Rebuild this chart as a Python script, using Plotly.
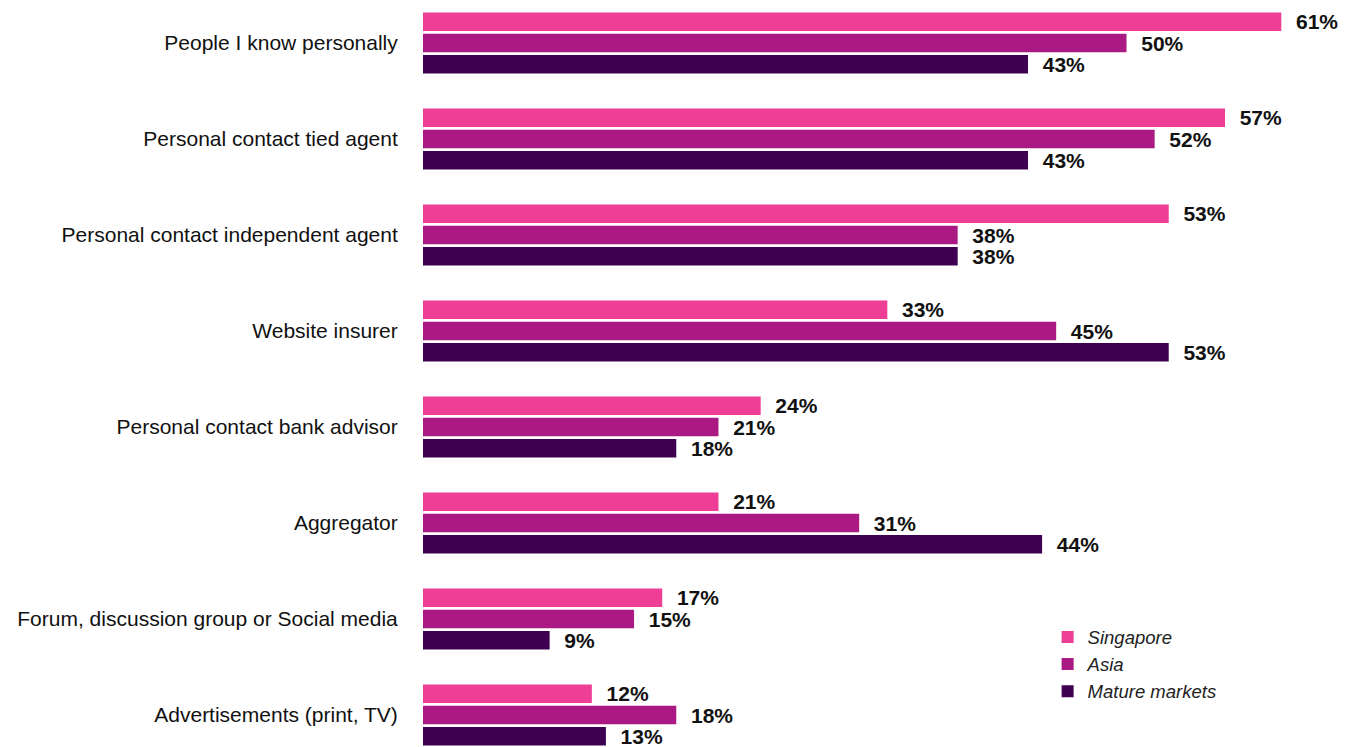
import plotly.graph_objects as go

categories = [
    "People I know personally",
    "Personal contact tied agent",
    "Personal contact independent agent",
    "Website insurer",
    "Personal contact bank advisor",
    "Aggregator",
    "Forum, discussion group or Social media",
    "Advertisements (print, TV)",
]
singapore = [61, 57, 53, 33, 24, 21, 17, 12]
asia = [50, 52, 38, 45, 21, 31, 15, 18]
mature = [43, 43, 38, 53, 18, 44, 9, 13]

series = [
    ("Singapore", singapore, "#EE3E96"),
    ("Asia", asia, "#AA1A82"),
    ("Mature markets", mature, "#3E0050"),
]

fig = go.Figure()
for name, vals, color in series:
    fig.add_trace(go.Bar(
        y=categories, x=vals, name=name, orientation="h",
        marker=dict(color=color, line=dict(width=0)),
        text=["\u00a0\u00a0%d%%" % v for v in vals],
        textposition="outside",
        constraintext="none",
        textfont=dict(family="Liberation Sans, Arial, sans-serif", size=21, color="#111111", weight="bold"),
        cliponaxis=False,
    ))

fig.update_layout(
    width=1347, height=747,
    margin=dict(l=423, r=0, t=0, b=0),
    barmode="group", bargap=0.336, bargroupgap=0.13,
    plot_bgcolor="white", paper_bgcolor="white",
    font=dict(family="Liberation Sans, Arial, sans-serif", size=21, color="#111111"),
    showlegend=True,
    legend=dict(
        x=0.676, y=0.172, xanchor="left", yanchor="top",
        font=dict(size=18.5, style="italic", color="#222222"),
        traceorder="normal", itemwidth=30, tracegroupgap=0,
        bgcolor="rgba(0,0,0,0)",
    ),
    uniformtext=dict(mode=False),
)
fig.update_xaxes(range=[0, 65.67], visible=False)
fig.update_yaxes(
    categoryorder="array", categoryarray=categories,
    range=[7.333, -0.448], showgrid=False, zeroline=False, showline=False,
    ticks="outside", ticklen=20, tickcolor="rgba(0,0,0,0)",
    tickfont=dict(size=21, color="#111111"),
)

fig.write_html("out.html")
